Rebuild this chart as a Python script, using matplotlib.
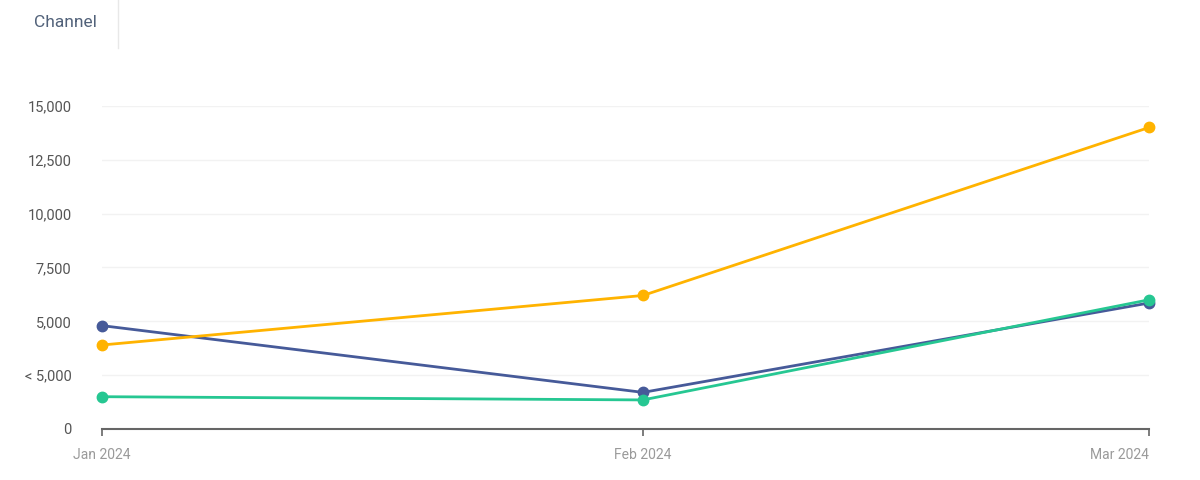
import matplotlib
matplotlib.use('Agg')
import matplotlib.pyplot as plt
import numpy as np

plt.rcParams['font.family'] = ['Roboto', 'DejaVu Sans']

# data
months = np.array(['2024-01-01', '2024-02-01', '2024-03-01'], dtype='datetime64[D]')
month_labels = ['Jan 2024', 'Feb 2024', 'Mar 2024']
blue_vals = [4800, 1700, 5850]
yellow_vals = [3900, 6200, 14000]
green_vals = [1500, 1350, 6000]
y_ticks = [0, 2500, 5000, 7500, 10000, 12500, 15000]
y_labels = ['0', '< 5,000', '5,000', '7,500', '10,000', '12,500', '15,000']

fig = plt.figure(figsize=(12, 4.8), dpi=100)
ax = fig.add_axes([0.085, 0.10625, 0.8725, 0.673])

for vals, col in [(blue_vals, '#465a99'), (yellow_vals, '#ffb300'), (green_vals, '#26c792')]:
    ax.plot(months, vals, color=col, lw=2, marker='o', markersize=7.5, zorder=3, clip_on=False)

ax.set_xlim(months[0], months[-1])
ax.set_ylim(0, 15000)
ax.set_xticks(months)
ax.set_xticklabels(month_labels)
ax.set_yticks(y_ticks)
ax.set_yticklabels(y_labels)

ax.grid(axis='y', color='#f2f2f2', lw=1)
ax.set_axisbelow(True)
for s in ['top', 'right', 'left']:
    ax.spines[s].set_visible(False)
ax.spines['bottom'].set_color('#666666')
ax.spines['bottom'].set_linewidth(1.5)
ax.tick_params(axis='x', colors='#666666', length=5, width=1.2, labelcolor='#9a9a9a',
               labelsize=10, pad=9)
ax.tick_params(axis='y', length=0, labelcolor='#555555', labelsize=10.5, pad=22)
labs = ax.get_xticklabels()
labs[-1].set_ha('right')

# header tab
fig.text(0.028, 0.953, 'Channel', fontsize=12.5, color='#52627a', va='center', ha='left')
fig.add_artist(plt.Line2D([0.0985, 0.0985], [0.9, 1.0], color='#e8e8e8', lw=1))

fig.savefig('out.png', dpi=100, facecolor='white')
